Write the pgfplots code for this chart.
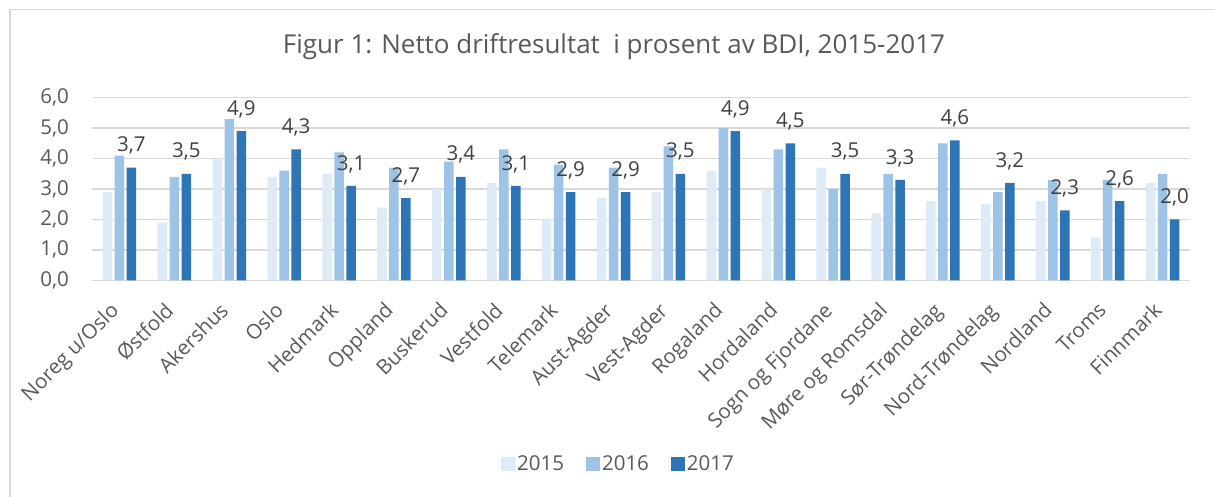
\documentclass[border=0pt]{standalone}
\usepackage{pgfplots}
\usepackage{pgfplotstable}
\pgfplotsset{compat=1.18}
\usepackage{fontspec}
\setmainfont{Open Sans}
\definecolor{c15}{HTML}{DEEBF7}
\definecolor{c16}{HTML}{9DC3E6}
\definecolor{c17}{HTML}{2E75B6}
\definecolor{gridc}{HTML}{D9D9D9}
\definecolor{txt}{HTML}{595959}
\definecolor{lbl}{HTML}{404040}
\pgfplotstableread{
x y15 y16 y17
0 2.9 4.1 3.7
1 1.9 3.4 3.5
2 4.0 5.3 4.9
3 3.4 3.6 4.3
4 3.5 4.2 3.1
5 2.4 3.7 2.7
6 3.0 3.9 3.4
7 3.2 4.3 3.1
8 2.0 3.8 2.9
9 2.7 3.7 2.9
10 2.9 4.4 3.5
11 3.6 5.0 4.9
12 3.0 4.3 4.5
13 3.7 3.0 3.5
14 2.2 3.5 3.3
15 2.6 4.5 4.6
16 2.5 2.9 3.2
17 2.6 3.3 2.3
18 1.4 3.3 2.6
19 3.2 3.5 2.0
}\datatable
\newcommand{\fs}{\fontsize{20.5}{24}\selectfont}
\begin{document}
\begin{tikzpicture}[x=1pt,y=1pt]
\useasboundingbox (0,0) rectangle (1215,497);
\draw[color=gridc, line width=1.5pt] (10,0) -- (10,487.7) -- (1216,487.7);
\node[font=\fontsize{26}{31}\selectfont, text=txt] at (614,450) {Figur 1: Netto driftresultat\ \ i prosent av BDI, 2015-2017};
\begin{axis}[
  at={(92pt,216.7pt)}, anchor=south west,
  scale only axis, width=1098pt, height=182.6pt,
  xmin=-0.5, xmax=19.5, ymin=0, ymax=6,
  ytick={0,1,...,6},
  xtick={0,...,19},
  xticklabels={Noreg u/Oslo,Østfold,Akershus,Oslo,Hedmark,Oppland,Buskerud,Vestfold,Telemark,Aust-Agder,Vest-Agder,Rogaland,Hordaland,Sogn og Fjordane,Møre og Romsdal,Sør-Trøndelag,Nord-Trøndelag,Nordland,Troms,Finnmark},
  ymajorgrids, grid style={gridc, line width=1.5pt},
  axis line style={draw=none},
  major tick length=0pt,
  ybar=2.5pt, bar width=9.5pt,
  clip=false,
  /pgf/number format/.cd, use comma, fixed, fixed zerofill, precision=1, assume math mode=true,
  /pgfplots/.cd,
  yticklabel style={font=\fs, text=txt, anchor=east, inner sep=0pt, xshift=-23pt},
  xticklabel style={font=\fs, text=txt, rotate=45, anchor=north east, inner sep=0pt, yshift=-7pt, xshift=-22pt},
  legend style={at={(0.4795,-1.006)}, anchor=center, legend columns=3, draw=none, fill=none, font=\fs, text=txt,
     /tikz/every even column/.append style={column sep=20pt}},
  legend image code/.code={\draw[#1,draw=none] (0pt,-7pt) rectangle (14pt,7pt);},
]
\addplot[fill=c15, draw=none] table[x=x, y=y15] {\datatable};
\addplot[fill=c16, draw=none] table[x=x, y=y16] {\datatable};
\addplot[fill=c17, draw=none, nodes near coords,
  every node near coord/.append style={font=\fs, text=lbl, anchor=south, inner sep=0pt, yshift=13pt}] table[x=x, y=y17] {\datatable};
\legend{2015,2016,2017}
\end{axis}
\end{tikzpicture}
\end{document}
